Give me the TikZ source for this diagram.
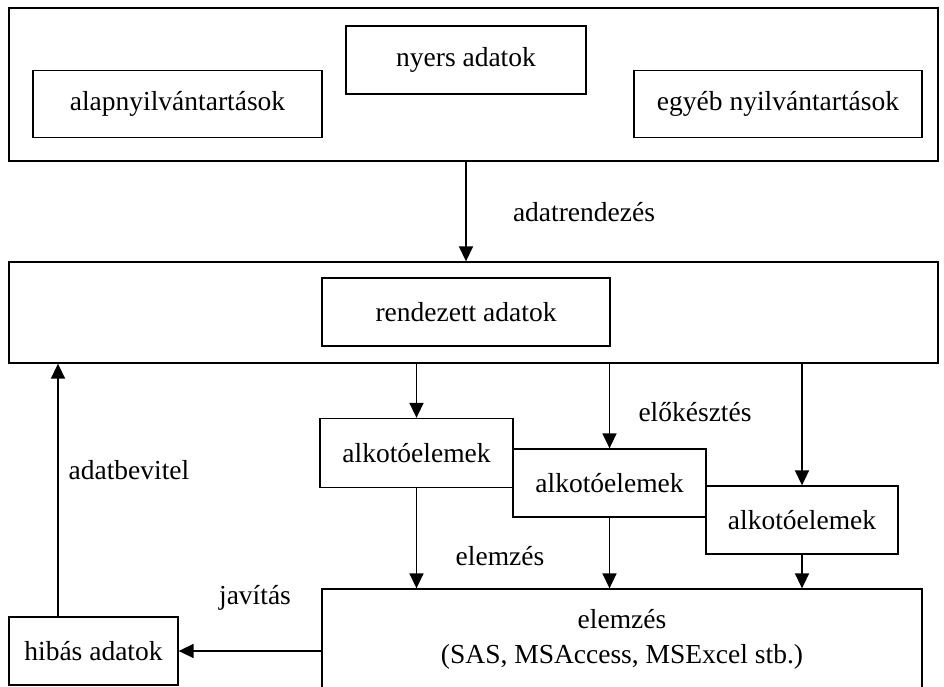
\documentclass[tikz,border=0pt]{standalone}
\usepackage{fontspec}
\setmainfont{Liberation Serif}
\usetikzlibrary{arrows.meta,positioning}
\tikzset{
  frame/.style={
    draw=black,
    line width=1.3pt,
    inner sep=0pt,
    align=center,
    fill=white,
    font=\fontsize{27.5}{35}\selectfont
  },
  flow/.style={
    -{Triangle[length=15pt,width=14pt]},
    draw=black,
    line width=1.6pt
  },
  label/.style={
    font=\fontsize{27.5}{33}\selectfont
  }
}

\begin{document}
\begin{tikzpicture}[x=1pt,y=-1pt]
  \useasboundingbox (0,0) rectangle (944,687);
  \clip (0,0) rectangle (944,687);

  % nyers adatok
  \node[frame, minimum width=929pt, minimum height=153pt] (rawbox) at (473.5,84.5) {};
  \node[frame, minimum width=289pt, minimum height=67pt] (basic) at (177.5,104) {alapnyilvántartások};
  \node[frame, minimum width=240pt, minimum height=68pt] (raw) at (466,60) {nyers adatok};
  \node[frame, minimum width=288pt, minimum height=67pt] (other) at (778,104) {egyéb nyilvántartások};

  % rendezett adatok
  \node[frame, minimum width=929pt, minimum height=101pt] (sortedbox) at (473.5,312.5) {};
  \node[frame, minimum width=288pt, minimum height=68pt] (sorted) at (466,312) {rendezett adatok};

  % alkotoelemek
  \node[frame, minimum width=193pt, minimum height=69pt] (comp1) at (416.5,453) {alkotóelemek};
  \node[frame, minimum width=193pt, minimum height=68pt] (comp2) at (609.5,483) {alkotóelemek};
  \node[frame, minimum width=192pt, minimum height=68pt] (comp3) at (802,520) {alkotóelemek};

  % elemzes, hibak
  \node[frame, minimum width=600pt, minimum height=100pt] (analysis) at (622,639)
    {elemzés\\(SAS, MSAccess, MSExcel stb.)};
  \node[frame, minimum width=169pt, minimum height=68pt] (faulty) at (93.5,651) {hibás adatok};

  \node[label] (lblsort) at (584,212) {adatrendezés};
  \node[label] (lblprep) at (695,412) {előkésztés};
  \node[label] (lblinput) at (129,470) {adatbevitel};
  \node[label] (lblanalyse) at (500,556) {elemzés};
  \node[label] (lblfix) at (255,598) {javítás};

  \draw[flow] (rawbox.south -| raw) -- (sortedbox.north -| raw);
  \draw[flow] (sortedbox.south -| comp1) -- (comp1.north);
  \draw[flow] (sortedbox.south -| comp2) -- (comp2.north);
  \draw[flow] (sortedbox.south -| comp3) -- (comp3.north);
  \draw[flow] (comp1.south) -- (analysis.north -| comp1);
  \draw[flow] (comp2.south) -- (analysis.north -| comp2);
  \draw[flow] (comp3.south) -- (analysis.north -| comp3);
  \draw[flow] (analysis.west |- faulty) -- (faulty.east);
  \draw[flow] ([xshift=-35.5pt]faulty.north) -- ([xshift=-35.5pt]faulty.north |- sortedbox.south);
\end{tikzpicture}
\end{document}
